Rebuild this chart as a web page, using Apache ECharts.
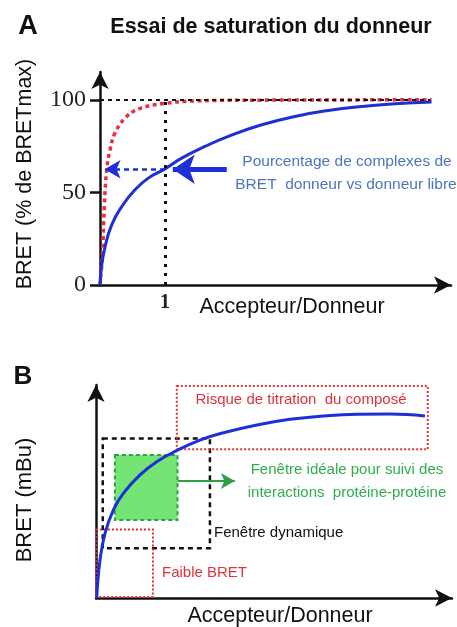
<!DOCTYPE html>
<html><head><meta charset="utf-8">
<script src="https://cdn.jsdelivr.net/npm/echarts@6/dist/echarts.min.js"></script>
<style>html,body{margin:0;padding:0;background:#fff}#c{width:457px;height:627px}</style>
</head><body><div id="c"></div>
<script>
// ---- Panel A data (x: Accepteur/Donneur, y: % BRETmax) ----
const blueA = [[0,0],[0.02,9],[0.077,20.5],[0.18,32.5],[0.334,42.3],[0.538,51.4],[0.743,57.7],[1.0,62.7],[1.257,68.5],[1.615,74.8],[1.974,80.2],[2.488,86.5],[3.0,91.0],[3.51,94.2],[4.03,96.4],[4.54,97.8],[5.10,98.8]];
const redA = [[0,0],[0.036,15.3],[0.066,42.3],[0.103,62.2],[0.154,73],[0.23,82],[0.385,90.1],[0.59,95],[0.95,97.8],[1.46,99.4],[2.5,99.8],[5.10,100]];
const yTicksA = [0,50,100];
const xTicksA = [1];
const refY = 100, refX = 1, refEndX = 5.08;
const dashArrowA = [[1,62.5],[0.07,62.5]];
const solidArrowA = [[1.95,62.5],[1.12,62.5]];

// ---- Panel B data (arbitrary units) ----
const blueB = [[0.02,0],[0.112,1.81],[0.253,3.08],[0.486,4.19],[0.767,4.98],[1.236,5.86],[1.705,6.49],[2.267,7.02],[2.92,7.52],[3.58,7.87],[4.52,8.24],[5.45,8.51],[6.39,8.67],[7.33,8.75],[8.26,8.76],[9.24,8.67]];
const riskBox = [[2.27,10.1],[9.32,7.08]];
const dynBox = [[0.19,7.6],[3.2,2.37]];
const idealBox = [[0.53,6.81],[2.29,3.71]];
const lowBox = [[0.0,3.26],[1.60,0.05]];
const greenArrow = [[2.29,5.57],[3.90,5.57]];

const SANS = '"Liberation Sans", Arial, sans-serif';
const SERIF = '"Liberation Serif", "Times New Roman", serif';
const BLUE = '#1f2fd8', RED = '#e8303c';

const chart = echarts.init(document.getElementById('c'), null, {renderer:'canvas'});

function axisArrow(){
  return {show:true, symbol:['none','arrow'], symbolSize:[13,17], lineStyle:{color:'#111', width:2.5}};
}
function seg(a,b,style,endSym,endSize){
  return [{coord:a, symbol:'none', lineStyle:style},{coord:b, symbol:endSym||'none', symbolSize:endSize||10}];
}

const option = {
  animation:false,
  grid:[
    {left:100, top:72, width:351, height:213},
    {left:96, top:385, width:356, height:213}
  ],
  xAxis:[
    {gridIndex:0, type:'value', min:0, max:5.4, axisLine:axisArrow(), splitLine:{show:false},
     axisTick:{show:false},
     axisLabel:{customValues:xTicksA, fontFamily:SERIF, fontSize:20, fontWeight:'bold', color:'#222', margin:8}},
    {gridIndex:1, type:'value', min:0, max:10, axisLine:axisArrow(), splitLine:{show:false},
     axisTick:{show:false}, axisLabel:{show:false}}
  ],
  yAxis:[
    {gridIndex:0, type:'value', min:0, max:115, axisLine:axisArrow(), splitLine:{show:false},
     axisTick:{show:true, customValues:yTicksA, length:10, lineStyle:{color:'#111', width:2.5}},
     axisLabel:{customValues:yTicksA, fontFamily:SERIF, fontSize:24, color:'#222', margin:14}},
    {gridIndex:1, type:'value', min:0, max:10.143, axisLine:axisArrow(), splitLine:{show:false},
     axisTick:{show:false}, axisLabel:{show:false}}
  ],
  series:[
    {type:'line', xAxisIndex:0, yAxisIndex:0, data:[], z:1, silent:true,
     markLine:{silent:true, animation:false, label:{show:false}, symbol:['none','none'],
       data:[
         seg([0,refY],[refEndX,refY],{color:'#111', width:2, type:[4,4]}),
         seg([refX,0],[refX,refY],{color:'#111', width:3, type:[3,6]})
       ]}},
    {type:'line', xAxisIndex:0, yAxisIndex:0, data:redA, smooth:0.4, showSymbol:false, z:3,
     lineStyle:{color:RED, width:3.5, type:[4,3.5]}},
    {type:'line', xAxisIndex:0, yAxisIndex:0, data:blueA, smooth:0.5, showSymbol:false, z:4,
     lineStyle:{color:BLUE, width:3}},
    {type:'line', xAxisIndex:0, yAxisIndex:0, data:[], z:5, silent:true,
     markLine:{silent:true, animation:false, label:{show:false}, symbol:['none','arrow'],
       data:[
         seg(dashArrowA[0],dashArrowA[1],{color:BLUE, width:2.5, type:[5,4]},'arrow',[14,16]),
         seg(solidArrowA[0],solidArrowA[1],{color:BLUE, width:5, type:'solid'},'arrow',[22,22])
       ]}},
    {type:'line', xAxisIndex:1, yAxisIndex:1, data:[], z:1, clip:false, silent:true,
     markArea:{silent:true, label:{show:false},
       data:[
         [{coord:idealBox[0], itemStyle:{color:'#74e474', borderColor:'#2f9e44', borderWidth:2, borderType:[4,3]}},{coord:idealBox[1]}],
         [{coord:dynBox[0], itemStyle:{color:'rgba(0,0,0,0)', borderColor:'#111', borderWidth:2.5, borderType:[5,4]}},{coord:dynBox[1]}],
         [{coord:riskBox[0], itemStyle:{color:'rgba(0,0,0,0)', borderColor:RED, borderWidth:2, borderType:[2,2]}},{coord:riskBox[1]}],
         [{coord:lowBox[0], itemStyle:{color:'rgba(0,0,0,0)', borderColor:RED, borderWidth:2, borderType:[2,2]}},{coord:lowBox[1]}]
       ]}},
    {type:'line', xAxisIndex:1, yAxisIndex:1, data:blueB, smooth:0.45, showSymbol:false, z:4,
     lineStyle:{color:BLUE, width:3}},
    {type:'line', xAxisIndex:1, yAxisIndex:1, data:[], z:5, silent:true,
     markLine:{silent:true, animation:false, label:{show:false}, symbol:['none','arrow'],
       data:[ seg(greenArrow[0],greenArrow[1],{color:'#2f9e44', width:2, type:'solid'},'arrow',[12,14]) ]}}
  ],
  graphic:[
    {type:'text', x:28, y:27, style:{text:'A', font:'bold 27px '+SANS, fill:'#111', align:'center', verticalAlign:'middle'}},
    {type:'text', x:271, y:27, style:{text:'Essai de saturation du donneur', font:'bold 21.5px '+SANS, fill:'#111', align:'center', verticalAlign:'middle'}},
    {type:'text', x:25, y:174, rotation:Math.PI/2, style:{text:'BRET (% de BRETmax)', font:'21.5px '+SANS, fill:'#111', align:'center', verticalAlign:'middle'}},
    {type:'text', x:292, y:307, style:{text:'Accepteur/Donneur', font:'21.5px '+SANS, fill:'#111', align:'center', verticalAlign:'middle'}},
    {type:'text', x:347, y:162, style:{text:'Pourcentage de complexes de', font:'15.5px '+SANS, fill:'#4d74c4', align:'center', verticalAlign:'middle'}},
    {type:'text', x:346, y:185, style:{text:'BRET  donneur vs donneur libre', font:'15.5px '+SANS, fill:'#4d74c4', align:'center', verticalAlign:'middle'}},
    {type:'text', x:23, y:377, style:{text:'B', font:'bold 26px '+SANS, fill:'#111', align:'center', verticalAlign:'middle'}},
    {type:'text', x:25, y:500, rotation:Math.PI/2, style:{text:'BRET (mBu)', font:'22px '+SANS, fill:'#111', align:'center', verticalAlign:'middle'}},
    {type:'text', x:280, y:616, style:{text:'Accepteur/Donneur', font:'21.5px '+SANS, fill:'#111', align:'center', verticalAlign:'middle'}},
    {type:'text', x:301, y:400, style:{text:'Risque de titration  du composé', font:'15px '+SANS, fill:'#e0323c', align:'center', verticalAlign:'middle'}},
    {type:'text', x:347, y:470, style:{text:'Fenêtre idéale pour suivi des', font:'15px '+SANS, fill:'#2fae4e', align:'center', verticalAlign:'middle'}},
    {type:'text', x:347, y:493, style:{text:'interactions  protéine-protéine', font:'15px '+SANS, fill:'#2fae4e', align:'center', verticalAlign:'middle'}},
    {type:'text', x:214, y:533, style:{text:'Fenêtre dynamique', font:'15px '+SANS, fill:'#111', align:'left', verticalAlign:'middle'}},
    {type:'text', x:162, y:573, style:{text:'Faible BRET', font:'15px '+SANS, fill:'#e0323c', align:'left', verticalAlign:'middle'}}
  ]
};
chart.setOption(option);
</script></body></html>
